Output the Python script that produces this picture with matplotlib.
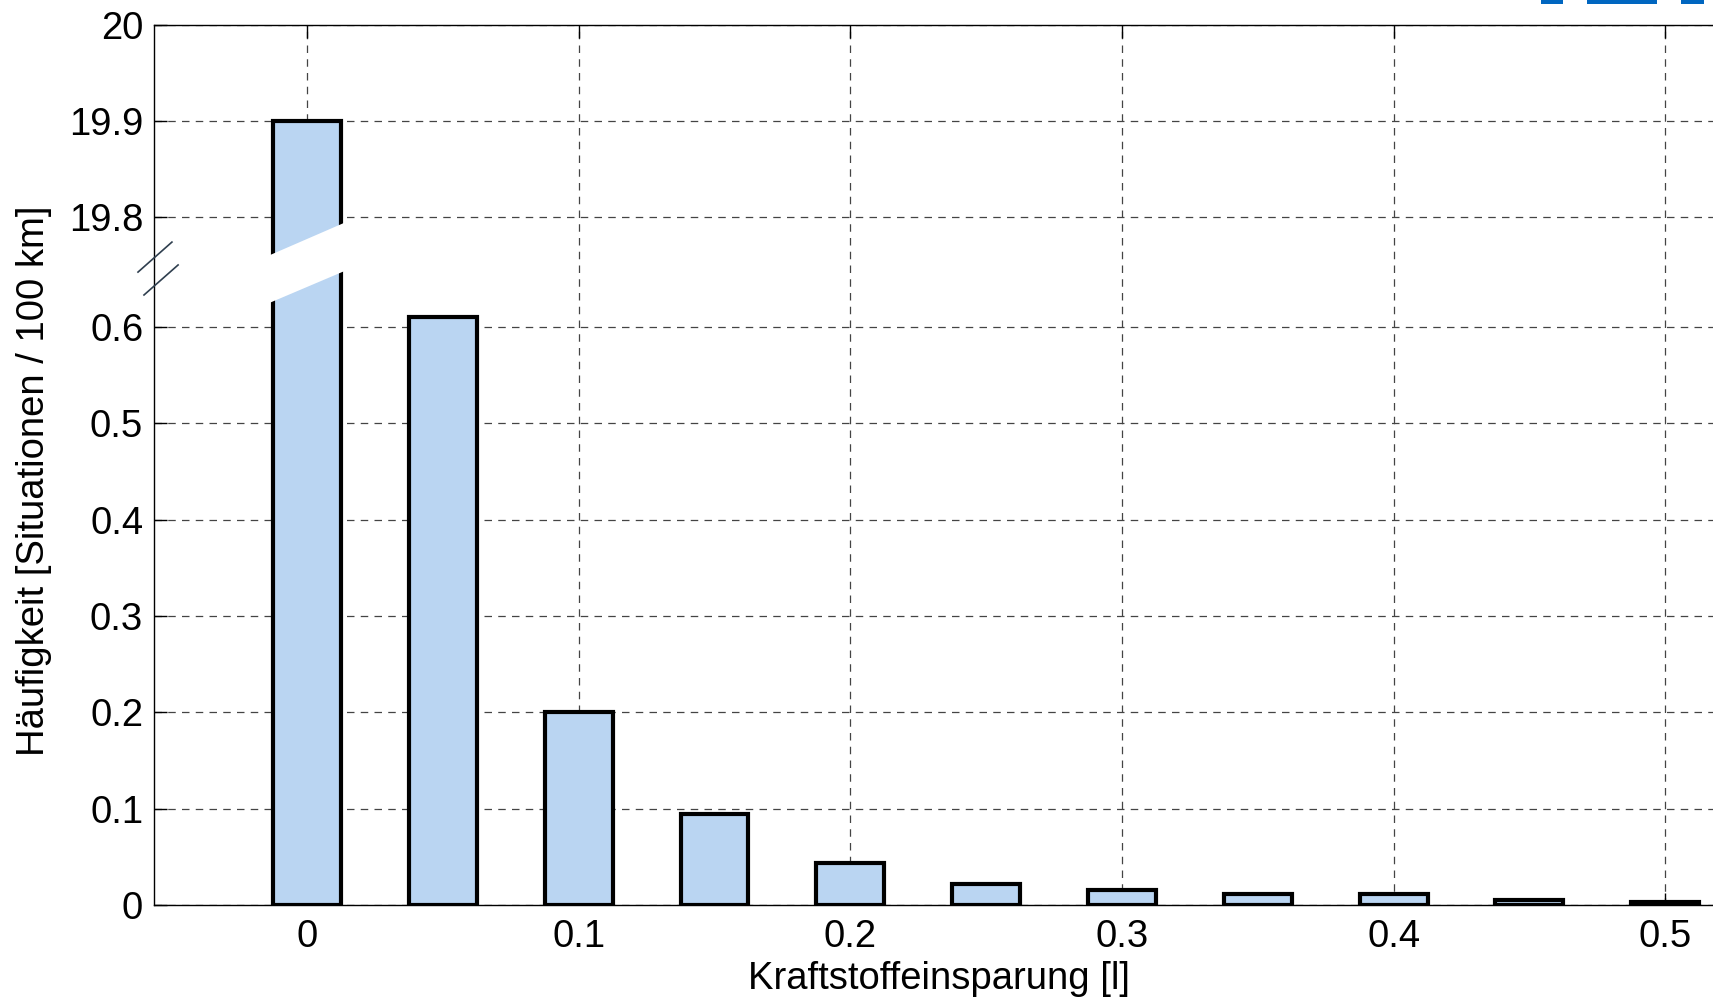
import numpy as np
import matplotlib
matplotlib.use("Agg")
import matplotlib.pyplot as plt
from matplotlib.patches import Polygon, Rectangle
from matplotlib.lines import Line2D

# === DATA ===
savings = [0.0, 0.05, 0.10, 0.15, 0.20, 0.25, 0.30, 0.35, 0.40, 0.45, 0.50]
frequency = [19.9, 0.61, 0.200, 0.094, 0.044, 0.022, 0.0156, 0.0114, 0.0118, 0.0055, 0.003]
xticks = [0, 0.1, 0.2, 0.3, 0.4, 0.5]
yticks = [0, 0.1, 0.2, 0.3, 0.4, 0.5, 0.6, 19.8, 19.9, 20]
ytick_labels = ["0", "0.1", "0.2", "0.3", "0.4", "0.5", "0.6", "19.8", "19.9", "20"]

# === BROKEN Y SCALE ===
LO, HI, GAP = 0.62, 19.8, 0.0941


def fwd(v):
    v = np.asarray(v, dtype=float)
    return np.where(v <= LO, v,
                    np.where(v >= HI, v - HI + LO + GAP,
                             LO + (v - LO) * GAP / (HI - LO)))


def inv(p):
    p = np.asarray(p, dtype=float)
    return np.where(p <= LO, p,
                    np.where(p >= LO + GAP, p - LO - GAP + HI,
                             LO + (p - LO) * (HI - LO) / GAP))


plt.rcParams["font.family"] = ["Liberation Sans", "DejaVu Sans"]

W, H = 1713, 997
fig = plt.figure(figsize=(W / 100, H / 100), dpi=100)
ax_left, ax_right = 154.3, 1818.0
ax_bot, ax_top = 905.0, 24.5
ax = fig.add_axes([ax_left / W, 1 - ax_bot / H,
                   (ax_right - ax_left) / W, (ax_bot - ax_top) / H])

ax.set_yscale("function", functions=(fwd, inv))
ax.set_axisbelow(True)
ax.bar(savings, frequency, width=0.025, color="#BAD5F2",
       edgecolor="black", linewidth=3.0, zorder=3)

ax.set_xlim(-0.05625, 0.55625)
ax.set_ylim(0, 20)
ax.set_xticks(xticks)
ax.set_xticklabels([f"{t:g}" for t in xticks])
ax.set_yticks(yticks)
ax.set_yticklabels(ytick_labels)
ax.yaxis.set_minor_locator(matplotlib.ticker.NullLocator())

ax.tick_params(direction="in", length=9, width=1, labelsize=27.5, pad=8,
               top=True, right=True)
ax.tick_params(axis="x", pad=10)
ax.grid(True, linestyle=(0, (6, 5)), linewidth=0.9, color="#444444")
for s in ax.spines.values():
    s.set_linewidth(1.0)

ax.set_xlabel("Kraftstoffeinsparung [l]", fontsize=27.5)
ax.xaxis.set_label_coords((939 - ax_left) / (ax_right - ax_left), -0.064)
ax.set_ylabel("Häufigkeit [Situationen / 100 km]", fontsize=27.5)
ax.yaxis.set_label_coords((52 - ax_left) / (ax_right - ax_left), 0.4816)

# white slanted band across the broken bar
band = Polygon([(-0.0137, 0.6840), (0.0137, 0.7199), (0.0137, 0.7748), (-0.0137, 0.7381)],
               closed=True, facecolor="white", edgecolor="none", zorder=4,
               transform=ax.get_xaxis_transform())
ax.add_patch(band)

# break marks on the y axis
for (x0, y0, x1, y1) in [(-0.0098, 0.7188, 0.0106, 0.7529), (-0.0062, 0.6928, 0.0143, 0.7269)]:
    ax.add_line(Line2D([x0, x1], [y0, y1], transform=ax.transAxes, color="#2F3F4F",
                       linewidth=1.2, clip_on=False, zorder=5))

# cut-off logo pieces at top right
for (x0, x1) in [(1541, 1563), (1587, 1657), (1681, 1704)]:
    fig.add_artist(Rectangle((x0 / W, 1 - 4 / H), (x1 - x0) / W, 4 / H,
                             transform=fig.transFigure, facecolor="#0066C0",
                             edgecolor="none"))

fig.savefig("out.png", dpi=100)
